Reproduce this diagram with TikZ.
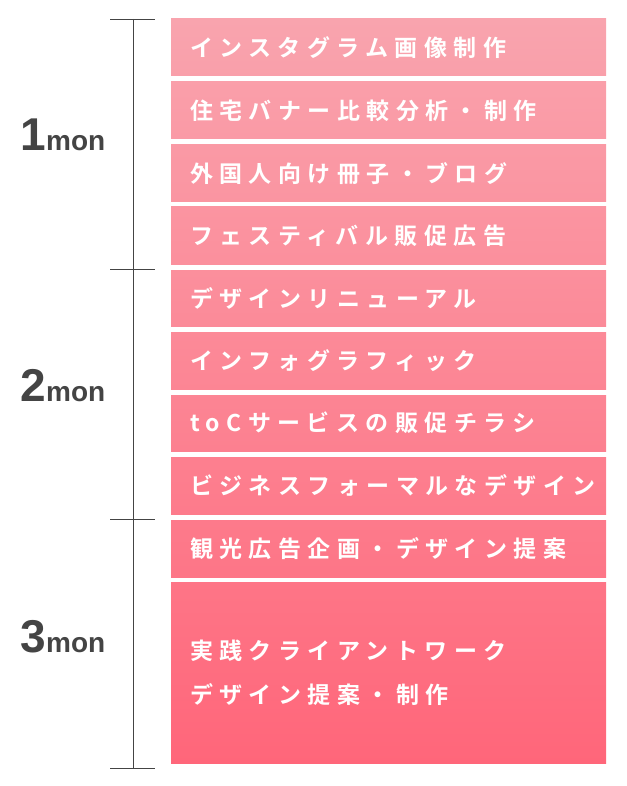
\documentclass[tikz,border=0pt]{standalone}
\usepackage{fontspec}
\setsansfont{Liberation Sans}
\newfontfamily\jp[BoldFont={Noto Sans CJK JP Bold},LetterSpace=28]{Noto Sans CJK JP}
\definecolor{pinktop}{RGB}{249,164,174}
\definecolor{pinkbot}{RGB}{255,102,122}
\definecolor{monfg}{RGB}{68,68,68}

\begin{document}
\begin{tikzpicture}[x=1pt,y=-1pt,
          stepbox/.style={draw=none,minimum width=435pt,inner xsep=19pt,
            text width=397pt,align=left,text=white,
            font=\jp\bfseries\fontsize{23}{44}\selectfont},
          monlabel/.style={text=monfg,font=\sffamily\bfseries,anchor=base}]

  \useasboundingbox (0,0) rectangle (626,786);

  % month boxes
  \foreach \ya/\yb/\txt [count=\i] in {
      19/76/インスタグラム画像制作,
      82/139/住宅バナー比較分析・制作,
      145/202/外国人向け冊子・ブログ,
      207/264/フェスティバル販促広告,
      270/326/デザインリニューアル,
      332/389/インフォグラフィック,
      395/451/toCサービスの販促チラシ,
      457/514/ビジネスフォーマルなデザイン,
      520/577/観光広告企画・デザイン提案,
      582/763/{実践クライアントワーク\\デザイン提案・制作}} {
    \pgfmathsetmacro{\pa}{100-(\ya-19)/744*100}
    \pgfmathsetmacro{\pb}{100-(\yb-19)/744*100}
    \node[stepbox,minimum height={\yb-\ya},
          top color=pinktop!\pa!pinkbot,bottom color=pinktop!\pb!pinkbot]
      (task\i) at (388.5,{(\ya+\yb)/2}) {\txt};
  }

  % brackets
  \draw[monfg,line width=0.8pt] (133,19) -- (133,768);
  \foreach \y/\k in {19/a,269/b,519/c,768/d} {
    \coordinate (tickl\k) at (110,\y);
    \coordinate (tickr\k) at (155,\y);
    \draw[monfg,line width=0.8pt] (tickl\k) -- (tickr\k);
  }

  \node[monlabel] (mon1) at (63,151) {\fontsize{46}{46}\selectfont 1\fontsize{28}{28}\selectfont mon};
  \node[monlabel] (mon2) at (63,401) {\fontsize{46}{46}\selectfont 2\fontsize{28}{28}\selectfont mon};
  \node[monlabel] (mon3) at (63,652) {\fontsize{46}{46}\selectfont 3\fontsize{28}{28}\selectfont mon};

\end{tikzpicture}
\end{document}
